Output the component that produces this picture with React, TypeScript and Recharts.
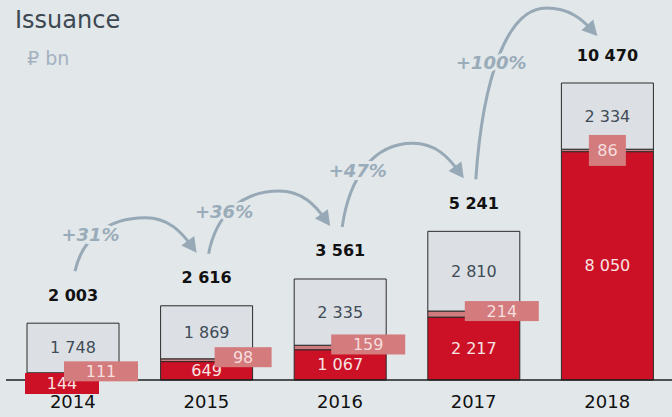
import React from "react";
import { BarChart, Bar, XAxis, YAxis, LabelList } from "recharts";

const years = ["2014", "2015", "2016", "2017", "2018"];
const redValues = [144, 649, 1067, 2217, 8050];
const pinkValues = [111, 98, 159, 214, 86];
const grayValues = [1748, 1869, 2335, 2810, 2334];
const growthLabels = ["+31%", "+36%", "+47%", "+100%"];

const totals = years.map((_, i) => redValues[i] + pinkValues[i] + grayValues[i]);
const data = years.map((year, i) => ({
  year,
  red: redValues[i],
  pink: pinkValues[i],
  gray: grayValues[i],
}));

const W = 672;
const H = 417;
const MARGIN = { top: 83, right: -2, left: 6, bottom: 0 };
const STEP = (W - MARGIN.left - MARGIN.right) / years.length;
const YMAX = Math.max(...totals);

const BG = "#e2e7ea";
const RED = "#cc1126";
const PINK = "#cf7a7c";
const PINK_BOX = "#d37b7d";
const GRAY = "#dce0e4";
const EDGE = "#2a2a2a";
const ARROW = "#97a9b6";
const FONT = "DejaVu Sans";

const fmt = (v: number) => v.toString().replace(/\B(?=(\d{3})+(?!\d))/g, " ");

const YearTick = ({ x, y, payload }: any) => (
  <text x={x} y={y + 28} textAnchor="middle" fontSize={18} fill="#111" fontFamily={FONT}>
    {payload.value}
  </text>
);

// curved growth arrow: rises from start, tops out at peak, drops onto the tip
const Arrow = ({ sx, sy, tx, ty, peak, label }: any) => {
  const kx = sx + 0.58 * (tx - sx);
  const w1 = kx - sx;
  const w2 = tx - kx;
  const a1x = sx + 0.1 * w1;
  const a1y = sy - 0.6 * (sy - peak);
  const a2x = kx - 0.55 * w1;
  const b1x = kx + 0.45 * w2;
  const b2x = tx - 0.3 * w2;
  const b2y = ty - 0.6 * (ty - peak);
  let ux = tx - b2x;
  let uy = ty - b2y;
  const len = Math.hypot(ux, uy);
  ux /= len;
  uy /= len;
  const head = 15;
  const half = 8;
  const bx = tx - ux * head;
  const by = ty - uy * head;
  const ex = tx - ux * 8;
  const ey = ty - uy * 8;
  const ly = sy + 0.68 * (peak - sy);
  const lx = sx + 0.22 * w1;
  return (
    <g>
      <path
        d={`M${sx},${sy} C${a1x},${a1y} ${a2x},${peak} ${kx},${peak} C${b1x},${peak} ${b2x},${b2y} ${ex},${ey}`}
        fill="none"
        stroke={ARROW}
        strokeWidth={3}
      />
      <polygon
        points={`${tx},${ty} ${bx - uy * half},${by + ux * half} ${bx + uy * half},${by - ux * half}`}
        fill={ARROW}
      />
      <text
        x={lx}
        y={ly}
        textAnchor="middle"
        dominantBaseline="central"
        fontSize={18}
        fontWeight="bold"
        fontStyle="italic"
        fontFamily={FONT}
        fill="#9aacb9"
        stroke={BG}
        strokeWidth={6}
        paintOrder="stroke"
      >
        {label}
      </text>
    </g>
  );
};

// all labels drawn from the top segment so they sit above every bar
const renderLabels = (props: any) => {
  const vb = props.viewBox ?? props;
  const x = Number(vb.x ?? props.x);
  const y = Number(vb.y ?? props.y);
  const width = Number(vb.width ?? props.width);
  const height = Number(vb.height ?? props.height);
  const i = props.index ?? grayValues.indexOf(Number(props.value));
  if (i < 0) return null;

  const ppu = height / grayValues[i];
  const cx = x + width / 2;
  const base = y + totals[i] * ppu;
  const redH = redValues[i] * ppu;
  const redTop = base - redH;
  const pinkTop = redTop - pinkValues[i] * ppu;
  const pinkMid = (pinkTop + redTop) / 2;
  const last = i === years.length - 1;

  const pinkText = fmt(pinkValues[i]);
  const pw = last ? 37 : 17 * pinkText.length + 23;
  const ph = last ? 31 : 20;
  const px = last ? cx - pw / 2 : x + width + 19 - pw;
  const pcy = last ? pinkMid : pinkMid - 3;

  const totalY = y - 28;
  let arrow = null;
  if (!last) {
    const nextTotalY = base - totals[i + 1] * ppu - 28;
    let ty = nextTotalY - 25;
    const peak = Math.max(ty - 35, 8);
    ty = Math.max(ty, peak + 28);
    arrow = (
      <Arrow sx={cx + 2} sy={totalY - 24} tx={cx + STEP - 10} ty={ty} peak={peak} label={growthLabels[i]} />
    );
  }

  const txt = { fontFamily: FONT, fontSize: 16, textAnchor: "middle" as const, dominantBaseline: "central" as const };

  return (
    <g>
      {redH < 10 ? (
        <g>
          <rect x={x - 2} y={base - 7} width={74} height={21} fill={RED} />
          <text {...txt} x={x + 35} y={base + 3.5} fill="#f8e3e3">
            {fmt(redValues[i])}
          </text>
        </g>
      ) : (
        <text {...txt} x={cx} y={redTop + redH / 2} fill="#f8e3e3">
          {fmt(redValues[i])}
        </text>
      )}
      <rect x={px} y={pcy - ph / 2} width={pw} height={ph} fill={PINK_BOX} />
      <text {...txt} x={px + pw / 2} y={pcy} fill="#f6dede">
        {pinkText}
      </text>
      <text {...txt} x={cx} y={(y + pinkTop) / 2} fill="#3f4c57">
        {fmt(grayValues[i])}
      </text>
      <text {...txt} x={cx} y={totalY} fill="#111" fontWeight="bold">
        {fmt(totals[i])}
      </text>
      {arrow}
    </g>
  );
};

export default function App() {
  return (
    <div style={{ position: "fixed", left: 0, top: 0, width: W, height: H, background: BG }}>
      <div
        style={{
          position: "absolute",
          left: 15,
          top: 8,
          fontFamily: FONT,
          fontSize: 24,
          lineHeight: "24px",
          color: "#3c4852",
        }}
      >
        Issuance
      </div>
      <div
        style={{
          position: "absolute",
          left: 27,
          top: 49,
          fontFamily: FONT,
          fontSize: 19,
          lineHeight: "19px",
          color: "#a3b2be",
        }}
      >
        ₽ bn
      </div>
      <div style={{ position: "absolute", left: 0, top: 0 }}>
        <BarChart width={W} height={H} data={data} margin={MARGIN} barSize={92}>
          <XAxis
            dataKey="year"
            axisLine={{ stroke: "#1e1e1e", strokeWidth: 1.5 }}
            tickLine={false}
            tickSize={0}
            tickMargin={0}
            height={37}
            interval={0}
            tick={<YearTick />}
          />
          <YAxis hide domain={[0, YMAX]} />
          <Bar dataKey="red" stackId="s" fill={RED} stroke={EDGE} strokeWidth={1} isAnimationActive={false} />
          <Bar dataKey="pink" stackId="s" fill={PINK} stroke={EDGE} strokeWidth={1} isAnimationActive={false} />
          <Bar dataKey="gray" stackId="s" fill={GRAY} stroke={EDGE} strokeWidth={1} isAnimationActive={false}>
            <LabelList dataKey="gray" content={renderLabels} />
          </Bar>
        </BarChart>
      </div>
    </div>
  );
}
